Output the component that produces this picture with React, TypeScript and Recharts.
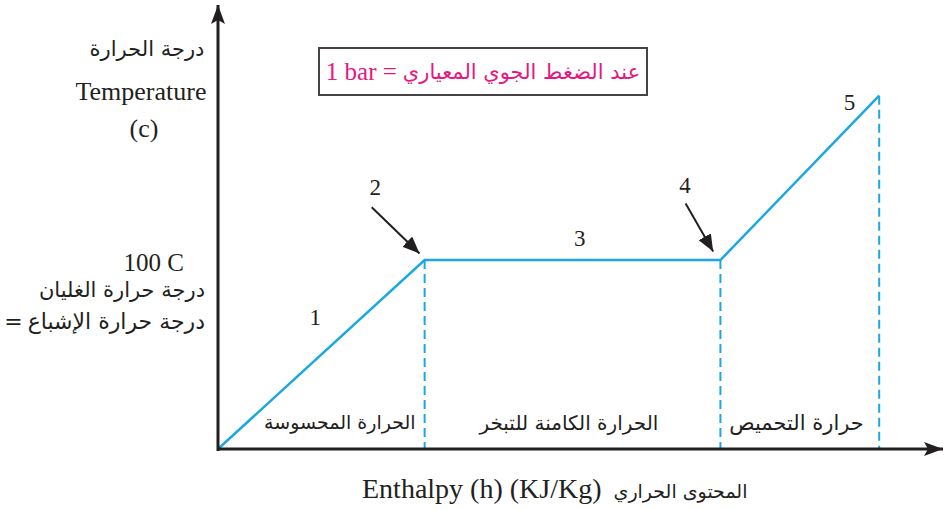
import { LineChart, Line, XAxis, YAxis, ReferenceLine, ReferenceDot } from 'recharts'

// heating curve of water at 1 bar (arbitrary enthalpy units)
const enthalpy = [0, 2.85, 6.93, 9.12]
const temperature = [0, 100, 100, 187]

const stageNumbers = ['1', '2', '3', '4', '5']
const regionNames = ['الحرارة المحسوسة', 'الحرارة الكامنة للتبخر', 'حرارة التحميص']

const data = enthalpy.map((h, i) => ({ h, t: temperature[i] }))

// label anchor points (data coords)
const numberPos = [
  { x: 1.34, y: 70 },
  { x: 2.17, y: 139 },
  { x: 4.99, y: 112 },
  { x: 6.44, y: 140 },
  { x: 8.71, y: 184 },
]
const regionPos = [
  { x: 1.68, y: 14 },
  { x: 4.84, y: 14 },
  { x: 7.98, y: 14 },
]
const regionSize = [19, 20, 21]
const pointerArrows = [
  { from: { x: 2.12, y: 128 }, to: { x: 2.78, y: 103.5 } },
  { from: { x: 6.45, y: 130 }, to: { x: 6.83, y: 104.5 } },
]

const BLUE = '#1BA8E0'
const INK = '#231F20'
const SERIF = '"Liberation Serif", "DejaVu Serif", serif'
const ARABIC = '"DejaVu Sans", sans-serif'

const AxisArrow = (p: any) => (
  <line x1={p.x1} y1={p.y1} x2={p.x2} y2={p.y2} stroke={INK} strokeWidth={3} markerEnd="url(#axisHead)" />
)
const PointerArrow = (p: any) => (
  <line x1={p.x1} y1={p.y1} x2={p.x2} y2={p.y2} stroke={INK} strokeWidth={2} markerEnd="url(#pointerHead)" />
)

const txt = (extra: React.CSSProperties): React.CSSProperties => ({
  position: 'absolute',
  color: INK,
  whiteSpace: 'nowrap',
  lineHeight: 1,
  ...extra,
})

export default function App() {
  return (
    <div style={{ position: 'absolute', left: 0, top: 0, width: 944, height: 510, background: '#fff' }}>
      <svg width={0} height={0} style={{ position: 'absolute' }}>
        <defs>
          <marker id="axisHead" markerUnits="userSpaceOnUse" markerWidth={20} markerHeight={14}
            refX={19} refY={7} orient="auto">
            <path d="M0,0 L19,7 L0,14 L4,7 z" fill={INK} />
          </marker>
          <marker id="pointerHead" markerUnits="userSpaceOnUse" markerWidth={18} markerHeight={14}
            refX={17} refY={7} orient="auto">
            <path d="M0,0 L17,7 L0,14 z" fill={INK} />
          </marker>
        </defs>
      </svg>

      <LineChart width={944} height={510} data={data}
        margin={{ top: 5, right: 1, left: 218, bottom: 61 }}>
        <XAxis type="number" dataKey="h" domain={[0, 10]} hide />
        <YAxis type="number" domain={[0, 235]} hide />

        {enthalpy.slice(1).map((h, i) => (
          <ReferenceLine key={'d' + i} segment={[{ x: h, y: temperature[i + 1] }, { x: h, y: 0 }]}
            stroke={BLUE} strokeWidth={2} strokeDasharray="9 5" ifOverflow="visible" />
        ))}

        <Line type="linear" dataKey="t" stroke={BLUE} strokeWidth={2.5} dot={false}
          isAnimationActive={false} />

        <ReferenceLine segment={[{ x: 0, y: 0 }, { x: 10, y: 0 }]} shape={AxisArrow} ifOverflow="visible" />
        <ReferenceLine segment={[{ x: 0, y: -1 }, { x: 0, y: 235 }]} shape={AxisArrow} ifOverflow="visible" />

        {pointerArrows.map((a, i) => (
          <ReferenceLine key={'p' + i} segment={[a.from, a.to]} shape={PointerArrow} ifOverflow="visible" />
        ))}

        {stageNumbers.map((n, i) => (
          <ReferenceDot key={'n' + i} x={numberPos[i].x} y={numberPos[i].y} r={0} fill="none" stroke="none"
            ifOverflow="visible"
            label={{ value: n, position: 'center', fill: INK, fontSize: 23, fontFamily: SERIF }} />
        ))}

        {regionNames.map((n, i) => (
          <ReferenceDot key={'r' + i} x={regionPos[i].x} y={regionPos[i].y} r={0} fill="none" stroke="none"
            ifOverflow="visible"
            label={{ value: n, position: 'center', fill: INK, fontSize: regionSize[i], fontFamily: ARABIC }} />
        ))}
      </LineChart>

      {/* boxed note */}
      <div style={{
        position: 'absolute', left: 318, top: 47, width: 326, height: 45, border: '2px solid #444',
        display: 'flex', alignItems: 'center', justifyContent: 'center', gap: 6, color: '#E6177F',
        whiteSpace: 'nowrap',
      }}>
        <span dir="ltr" style={{ fontFamily: SERIF, fontSize: 25 }}>1 bar =</span>
        <span dir="rtl" style={{ fontFamily: ARABIC, fontSize: 21 }}>عند الضغط الجوي المعياري</span>
      </div>

      {/* y axis title */}
      <div dir="rtl" style={txt({ left: 47, width: 200, top: 39, textAlign: 'center', fontFamily: ARABIC, fontSize: 21 })}>درجة الحرارة</div>
      <div style={txt({ left: 41, width: 200, top: 79, textAlign: 'center', fontFamily: SERIF, fontSize: 26 })}>Temperature</div>
      <div style={txt({ left: 44, width: 200, top: 116, textAlign: 'center', fontFamily: SERIF, fontSize: 26 })}>(c)</div>

      {/* 100 C note */}
      <div style={txt({ left: 0, width: 184, top: 250, textAlign: 'right', fontFamily: SERIF, fontSize: 25 })}>100 C</div>
      <div dir="rtl" style={txt({ left: 0, width: 205, top: 280, textAlign: 'right', fontFamily: ARABIC, fontSize: 21 })}>درجة حرارة الغليان</div>
      <div style={txt({ left: 0, width: 205, top: 311, display: 'flex', justifyContent: 'flex-end', gap: 5, fontFamily: ARABIC, fontSize: 22 })}>
        <span>=</span>
        <span dir="rtl">درجة حرارة الإشباع</span>
      </div>

      {/* x axis title */}
      <div style={txt({ left: 362, top: 475, display: 'flex', alignItems: 'baseline', gap: 12 })}>
        <span dir="ltr" style={{ fontFamily: SERIF, fontSize: 28 }}>Enthalpy (h) (KJ/Kg)</span>
        <span dir="rtl" style={{ fontFamily: ARABIC, fontSize: 19 }}>المحتوى الحراري</span>
      </div>
    </div>
  )
}
